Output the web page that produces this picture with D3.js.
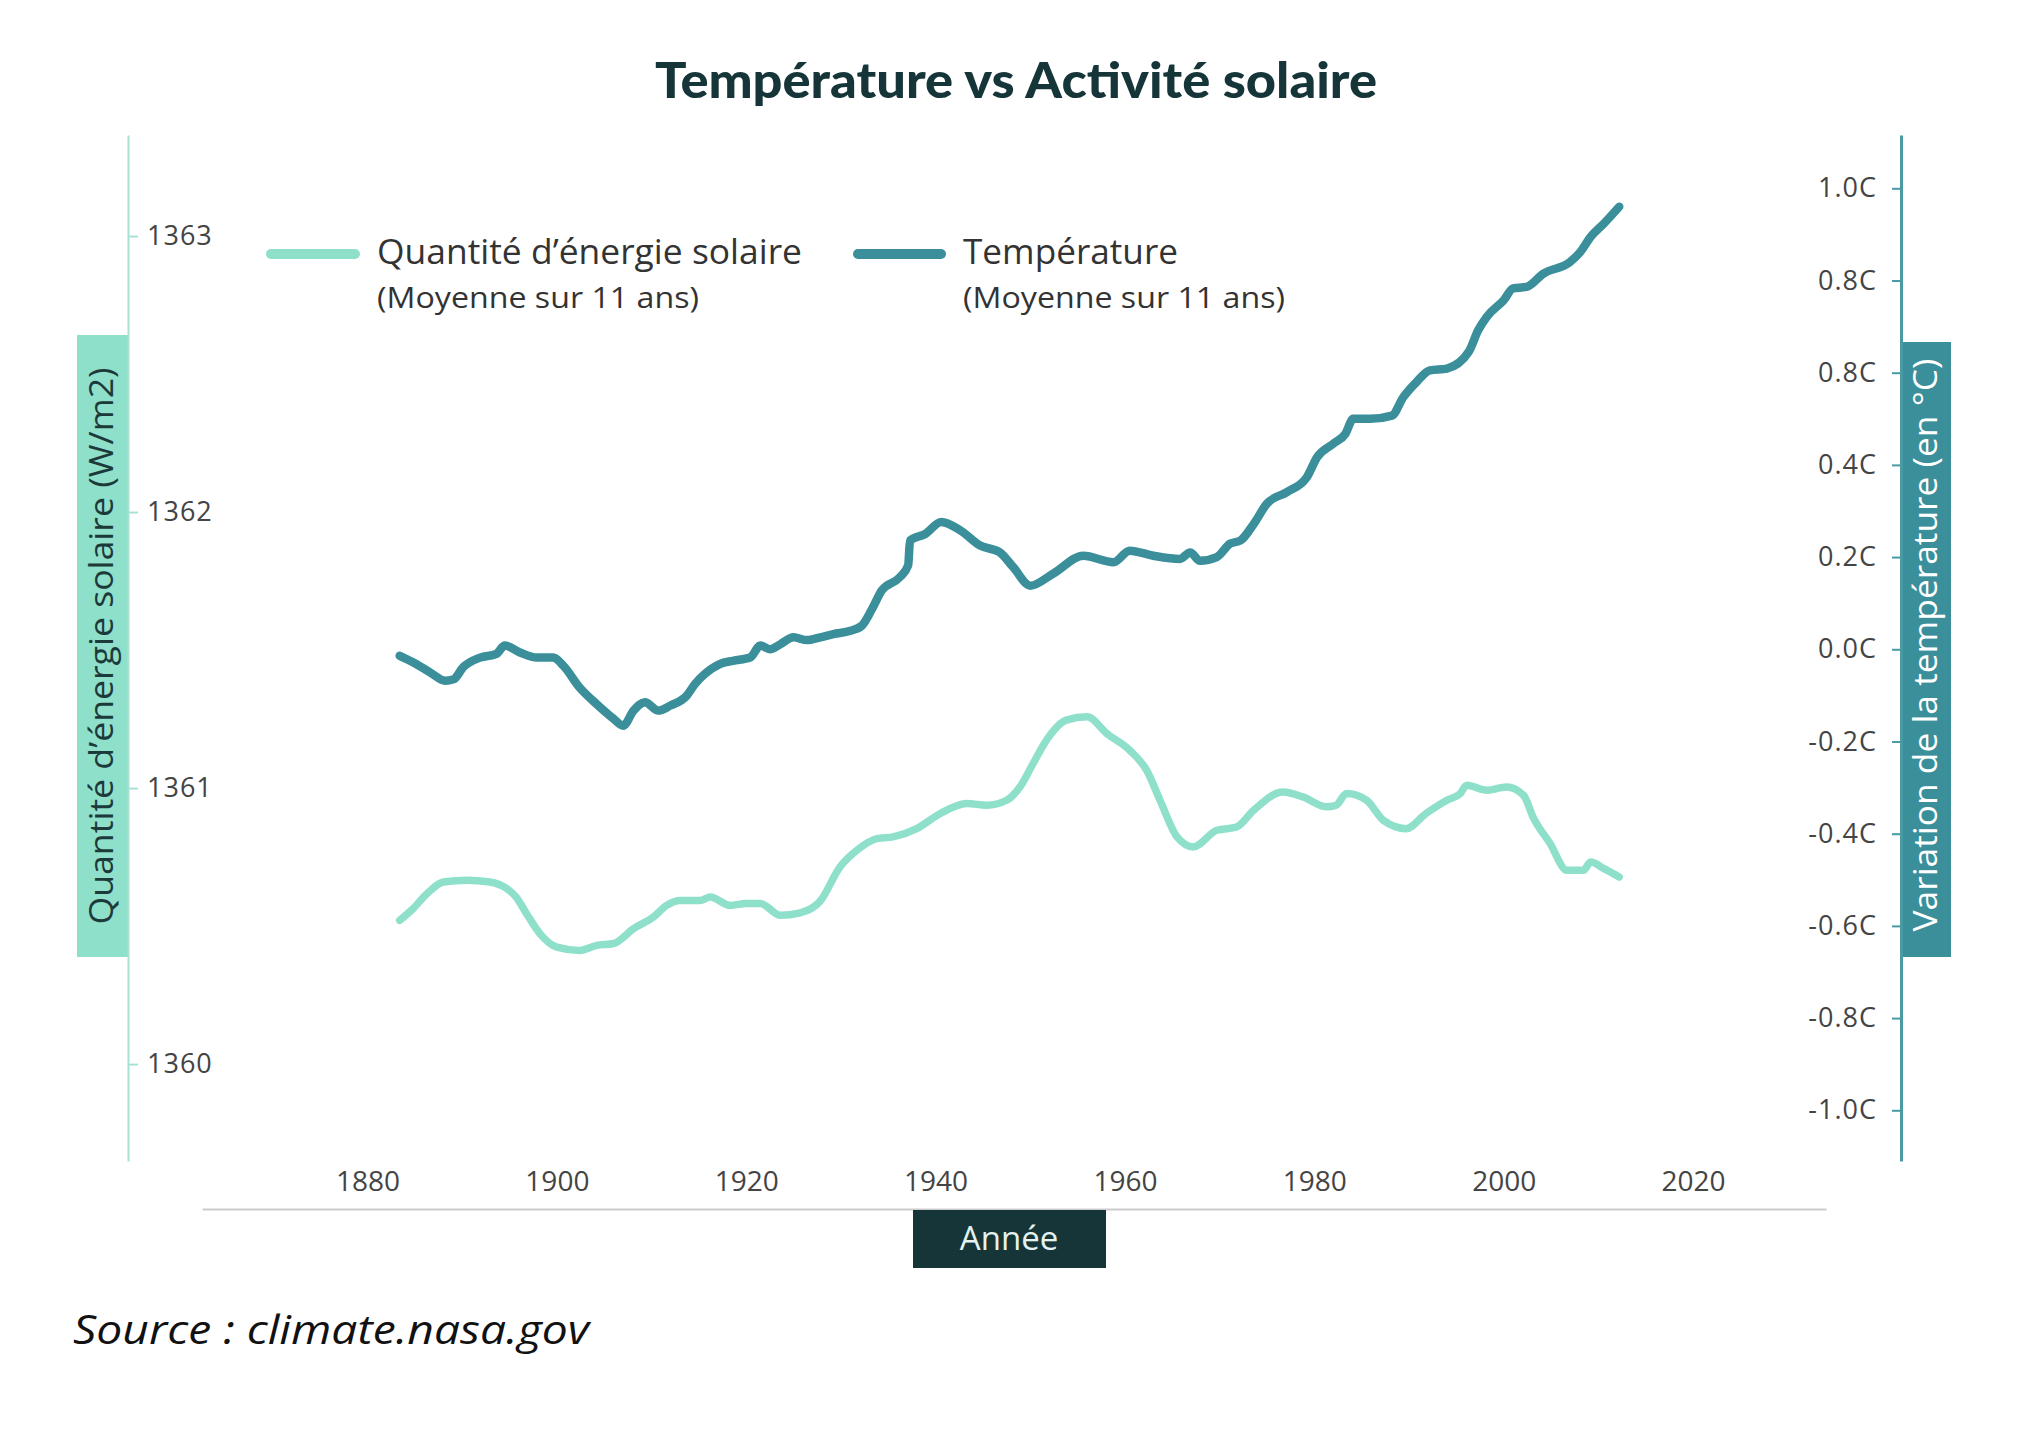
<!DOCTYPE html>
<html><head><meta charset="utf-8">
<script src="https://cdn.jsdelivr.net/npm/d3@7"></script>
<style>
html,body{margin:0;padding:0;background:#fff;}
svg{display:block;}
</style></head>
<body>
<script>
const tempYears = [1883.4,1884.8,1886.6,1888.2,1889.1,1890.1,1891.9,1893.6,1894.5,1896.1,1897.9,1899.6,1900.7,1902.4,1904.2,1906,1907,1908.1,1909.3,1910.7,1912,1913.7,1914.6,1915.6,1917.2,1918.6,1920.4,1921.5,1922.5,1923.6,1925,1926.4,1927.8,1929.2,1931,1932.2,1933.3,1934.3,1936.2,1937.1,1937.3,1938.9,1940.6,1942.6,1944.7,1946.8,1948.2,1950,1952.4,1955.6,1958.8,1960.5,1963,1965.8,1966.9,1967.9,1969.7,1971.1,1972.2,1973.6,1975,1977.1,1979.2,1980.3,1982,1983.3,1984.1,1985.9,1988.2,1989.4,1990.8,1992.2,1994,1996.3,1997.3,1998.2,2000,2001,2002.4,2004.2,2007,2008.1,2009.2,2010.6,2012.2];
const tempValues = [-0.014,-0.028,-0.05,-0.068,-0.065,-0.039,-0.018,-0.01,0.008,-0.007,-0.018,-0.018,-0.036,-0.083,-0.119,-0.151,-0.166,-0.133,-0.115,-0.133,-0.122,-0.101,-0.075,-0.054,-0.032,-0.025,-0.018,0.008,0.0,0.011,0.026,0.02,0.026,0.033,0.04,0.051,0.088,0.127,0.156,0.182,0.236,0.25,0.276,0.258,0.225,0.21,0.178,0.138,0.164,0.203,0.189,0.214,0.203,0.196,0.21,0.192,0.2,0.229,0.236,0.272,0.316,0.341,0.373,0.417,0.446,0.468,0.5,0.5,0.507,0.547,0.58,0.605,0.609,0.645,0.692,0.721,0.757,0.783,0.786,0.815,0.84,0.862,0.895,0.924,0.96];

const solarYears = [1883.4,1884.8,1886.3,1888,1890.5,1892.9,1894.7,1895.7,1896.8,1898.2,1900,1902.4,1904.2,1906,1908.1,1910.2,1911.6,1913,1915.1,1916.2,1918.3,1920,1921.5,1923.6,1925.7,1927.8,1929.9,1931.7,1933.8,1935.5,1938,1940.5,1943.3,1945.4,1947.5,1948.9,1950.3,1951.7,1953.8,1956,1958.1,1960.5,1962.3,1963.7,1965.5,1967.2,1969.7,1971.8,1973.6,1976.7,1978.8,1981.3,1982.3,1983.4,1985.5,1987.3,1989.7,1991.8,1994,1995.4,1996.1,1998.2,2000.3,2002.1,2003.1,2004.9,2006.7,2008.4,2009.2,2010.6,2012.2];
const solarValues = [1360.521,1360.563,1360.618,1360.66,1360.666,1360.66,1360.636,1360.605,1360.545,1360.473,1360.424,1360.412,1360.43,1360.437,1360.491,1360.533,1360.575,1360.593,1360.593,1360.605,1360.575,1360.582,1360.582,1360.539,1360.548,1360.59,1360.714,1360.775,1360.817,1360.823,1360.853,1360.908,1360.944,1360.938,1360.956,1361.004,1361.089,1361.173,1361.246,1361.258,1361.197,1361.137,1361.064,1360.956,1360.823,1360.787,1360.847,1360.859,1360.92,1360.986,1360.968,1360.932,1360.938,1360.98,1360.956,1360.883,1360.853,1360.908,1360.956,1360.98,1361.01,1360.992,1361.004,1360.974,1360.895,1360.799,1360.702,1360.702,1360.732,1360.708,1360.678];

const xTicks = [1880,1900,1920,1940,1960,1980,2000,2020];
const leftTicks = [1360,1361,1362,1363];
const rightTicks = [-1.0,-0.8,-0.6,-0.4,-0.2,0.0,0.2,0.4,0.6,0.8,1.0];
const rightTickLabels = ["-1.0C","-0.8C","-0.6C","-0.4C","-0.2C","0.0C","0.2C","0.4C","0.8C","0.8C","1.0C"];

const title = "Température vs Activité solaire";
const legendNames = ["Quantité d’énergie solaire","Température"];
const legendSub = "(Moyenne sur 11 ans)";
const leftLabel = "Quantité d’énergie solaire (W/m2)";
const rightLabel = "Variation de la température (en °C)";
const xLabel = "Année";
const sourceText = "Source : climate.nasa.gov";

const W = 2022, H = 1436;
const MINT = "#8fe0cb", TEAL = "#3a8f9b", DARK = "#163538";

const svg = d3.select("body").append("svg").attr("width", W).attr("height", H)
  .style("background", "#fff");

const x = d3.scaleLinear().domain([1862.52, 2034.04]).range([202, 1826]);
const yL = d3.scaleLinear().domain([1359.649, 1363.366]).range([1161, 135]);
const yR = d3.scaleLinear().domain([-1.11, 1.1156]).range([1161, 135]);

// Title
svg.append("text").attr("x", 1016).attr("y", 98).attr("text-anchor", "middle")
  .attr("font-family", "Lato").attr("font-weight", 900).attr("font-size", 50)
  .attr("fill", DARK).attr("textLength", 722).attr("lengthAdjust", "spacingAndGlyphs")
  .text(title);

// Left axis label box
svg.append("rect").attr("x", 77).attr("y", 335).attr("width", 51).attr("height", 622).attr("fill", MINT);
svg.append("text").attr("transform", "translate(113,646) rotate(-90)")
  .attr("text-anchor", "middle").attr("font-family", "Open Sans").attr("font-size", 32)
  .attr("fill", "#1d3a3a").attr("textLength", 557).attr("lengthAdjust", "spacingAndGlyphs")
  .text(leftLabel);

// Right axis label box
svg.append("rect").attr("x", 1901).attr("y", 342).attr("width", 50).attr("height", 615).attr("fill", TEAL);
svg.append("text").attr("transform", "translate(1937,645) rotate(-90)")
  .attr("text-anchor", "middle").attr("font-family", "Open Sans").attr("font-size", 32)
  .attr("fill", "#ffffff").attr("textLength", 573).attr("lengthAdjust", "spacingAndGlyphs")
  .text(rightLabel);

// Left axis
const gL = svg.append("g").attr("transform", "translate(128,0)")
  .call(d3.axisRight(yL).tickValues(leftTicks).tickSize(10).tickSizeOuter(0).tickPadding(9).tickFormat(d3.format("d")));
gL.select(".domain").attr("stroke", "#a6e3d5").attr("stroke-width", 2);
gL.selectAll(".tick line").attr("stroke", "#a6e3d5").attr("stroke-width", 2);
gL.selectAll(".tick text").attr("font-family", "Open Sans").attr("font-size", 27).attr("fill", "#444")
  .attr("letter-spacing", 1);

// Right axis
const gR = svg.append("g").attr("transform", "translate(1901,0)")
  .call(d3.axisLeft(yR).tickValues(rightTicks).tickSize(9).tickSizeOuter(0).tickPadding(15)
    .tickFormat((d, i) => rightTickLabels[i]));
gR.select(".domain").attr("stroke", "#4a9aa3").attr("stroke-width", 3);
gR.selectAll(".tick line").attr("stroke", "#4a9aa3").attr("stroke-width", 2);
gR.selectAll(".tick text").attr("font-family", "Open Sans").attr("font-size", 27).attr("fill", "#444")
  .attr("letter-spacing", 1);

// X axis
const gX = svg.append("g").attr("transform", "translate(0,1209)")
  .call(d3.axisTop(x).tickValues(xTicks).tickSize(0).tickSizeOuter(0).tickPadding(18).tickFormat(d3.format("d")));
gX.select(".domain").attr("stroke", "#cccccc").attr("stroke-width", 2);
gX.selectAll(".tick text").attr("font-family", "Open Sans").attr("font-size", 28).attr("fill", "#444");

// X label box
svg.append("rect").attr("x", 913).attr("y", 1210).attr("width", 193).attr("height", 58).attr("fill", DARK);
svg.append("text").attr("x", 1009).attr("y", 1250).attr("text-anchor", "middle")
  .attr("font-family", "Open Sans").attr("font-size", 33).attr("fill", "#e4f3f0")
  .text(xLabel);

// Lines
const solarData = solarYears.map((y, i) => [y, solarValues[i]]);
const tempData = tempYears.map((y, i) => [y, tempValues[i]]);

svg.append("path").datum(solarData)
  .attr("d", d3.line().x(d => x(d[0])).y(d => yL(d[1])).curve(d3.curveMonotoneX))
  .attr("fill", "none").attr("stroke", MINT).attr("stroke-width", 7.5)
  .attr("stroke-linejoin", "round").attr("stroke-linecap", "round");

svg.append("path").datum(tempData)
  .attr("d", d3.line().x(d => x(d[0])).y(d => yR(d[1])).curve(d3.curveMonotoneX))
  .attr("fill", "none").attr("stroke", TEAL).attr("stroke-width", 8.5)
  .attr("stroke-linejoin", "round").attr("stroke-linecap", "round");

// Legend
const legend = [
  {name: legendNames[0], color: MINT, x1: 271, x2: 355, tx: 377, w1: 425},
  {name: legendNames[1], color: TEAL, x1: 858, x2: 941, tx: 963, w1: 215}
];
legend.forEach(l => {
  svg.append("line").attr("x1", l.x1).attr("x2", l.x2).attr("y1", 254).attr("y2", 254)
    .attr("stroke", l.color).attr("stroke-width", 10).attr("stroke-linecap", "round");
  svg.append("text").attr("x", l.tx).attr("y", 264).attr("font-family", "Open Sans").attr("font-size", 35)
    .attr("fill", "#333").attr("textLength", l.w1).attr("lengthAdjust", "spacingAndGlyphs").text(l.name);
  svg.append("text").attr("x", l.tx).attr("y", 308).attr("font-family", "Open Sans").attr("font-size", 30)
    .attr("fill", "#333").attr("textLength", 322).attr("lengthAdjust", "spacingAndGlyphs").text(legendSub);
});

// Source
svg.append("text").attr("x", 73).attr("y", 1344).attr("font-family", "Open Sans").attr("font-style", "italic")
  .attr("font-weight", 400)
  .attr("font-size", 40).attr("fill", "#111").attr("textLength", 516).attr("lengthAdjust", "spacingAndGlyphs")
  .text(sourceText);
</script>
</body></html>
